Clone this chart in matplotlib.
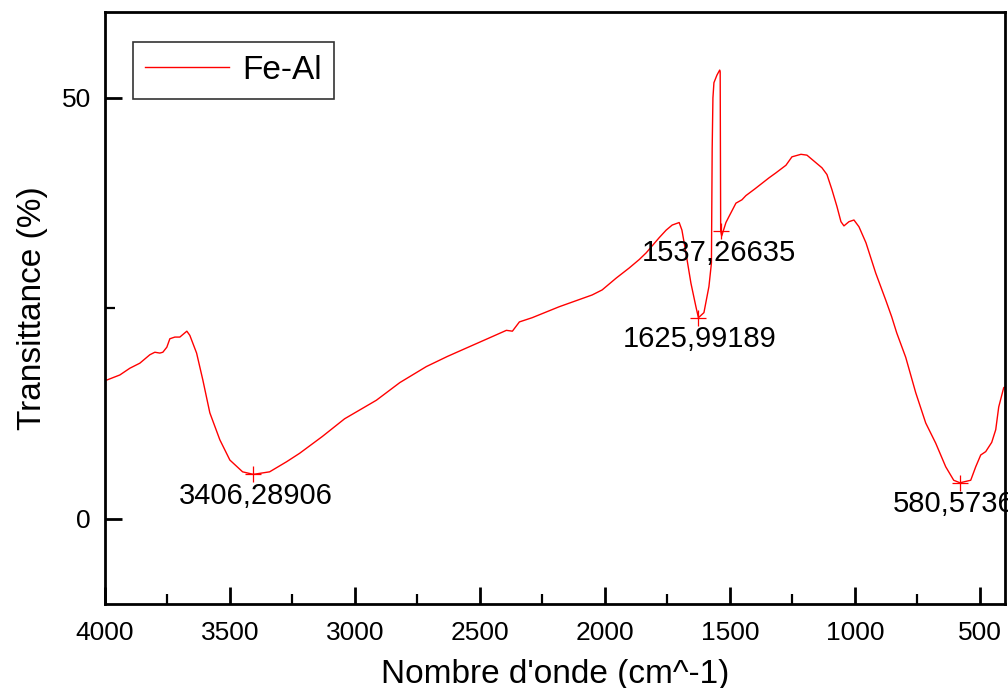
import matplotlib.pyplot as plt
from matplotlib.ticker import MultipleLocator

plt.rcParams['font.family'] = ['Liberation Sans', 'DejaVu Sans']

# wavenumber (cm^-1) and transmittance (%)
wn = [4000, 3992, 3940, 3900, 3860, 3820, 3800, 3780, 3768, 3752, 3740, 3720,
      3700, 3672, 3660, 3633, 3608, 3580, 3540, 3500, 3449, 3406, 3341, 3273,
      3221, 3130, 3041, 2914, 2820, 2714, 2630, 2554, 2470, 2394, 2370, 2342,
      2291, 2183, 2051, 2011, 1955, 1903, 1863, 1835, 1783, 1755, 1731, 1703,
      1692, 1676, 1656, 1636, 1626, 1604, 1584, 1574, 1571, 1568, 1564, 1552,
      1541, 1539, 1537, 1533, 1516, 1504, 1476, 1452, 1436, 1400, 1344, 1316,
      1276, 1252, 1216, 1192, 1164, 1132, 1112, 1092, 1072, 1056, 1044, 1024,
      1004, 984, 956, 917, 877, 853, 833, 797, 757, 717, 677, 637, 605,
      580, 537, 517, 497, 477, 453, 437, 425, 405, 397]
tr = [16.5, 16.5, 17.1, 17.9, 18.5, 19.5, 19.8, 19.7, 19.8, 20.4, 21.4, 21.6,
      21.6, 22.3, 21.8, 19.7, 16.5, 12.6, 9.4, 7.0, 5.6, 5.3, 5.6, 6.8,
      7.8, 9.8, 11.9, 14.1, 16.2, 18.1, 19.3, 20.3, 21.4, 22.4, 22.3, 23.4,
      23.9, 25.2, 26.6, 27.2, 28.6, 29.8, 30.8, 31.6, 33.4, 34.3, 34.9, 35.2,
      34.3, 31.6, 28.0, 25.2, 23.9, 24.5, 27.6, 30.4, 44.0, 50.0, 51.8, 52.7,
      53.3, 53.1, 34.2, 33.6, 35.2, 35.9, 37.5, 37.9, 38.4, 39.2, 40.5, 41.1,
      42.0, 43.0, 43.3, 43.2, 42.5, 41.7, 40.9, 39.1, 37.1, 35.3, 34.8, 35.3,
      35.5, 34.7, 32.8, 29.2, 26.0, 24.0, 22.1, 19.2, 15.0, 11.4, 9.0, 6.2, 4.6,
      4.3, 4.6, 6.2, 7.6, 8.0, 9.1, 10.6, 13.3, 15.6, 15.7]

peak_wn = [3406.28906, 1625.99189, 1537.26635, 580.5736]
peak_tr = [5.3, 23.9, 34.2, 4.3]
peak_lbl = ['3406,28906', '1625,99189', '1537,26635', '580,5736']

fig = plt.figure(figsize=(10.08, 6.88), dpi=100)
ax = fig.add_axes([0.104, 0.122, 0.893, 0.8606])

ax.plot(wn, tr, color='red', lw=1.0, label='Fe-Al')
ax.plot(peak_wn, peak_tr, ls='none', marker='+', ms=11, mew=0.9, color='red')

# peak labels below the markers
ax.text(peak_wn[0] - 10, peak_tr[0] - 0.9, peak_lbl[0], ha='center', va='top', fontsize=21)
ax.text(peak_wn[1] - 5, peak_tr[1] - 0.9, peak_lbl[1], ha='center', va='top', fontsize=21)
ax.text(peak_wn[2] + 5, peak_tr[2] - 0.9, peak_lbl[2], ha='center', va='top', fontsize=21)
ax.text(848, peak_tr[3] - 0.9, peak_lbl[3], ha='left', va='top', fontsize=21)

ax.set_xlim(4000, 400)
ax.set_ylim(-10.1, 60.2)
ax.xaxis.set_major_locator(MultipleLocator(500))
ax.xaxis.set_minor_locator(MultipleLocator(250))
ax.yaxis.set_major_locator(MultipleLocator(50))
ax.yaxis.set_minor_locator(MultipleLocator(25))
ax.tick_params(which='major', direction='in', length=12, width=2, labelsize=19, pad=12)
ax.tick_params(which='minor', direction='in', length=7, width=1.6)
ax.tick_params(axis='y', which='major', pad=10)

for s in ax.spines.values():
    s.set_linewidth(2)

ax.set_xlabel("Nombre d'onde (cm^-1)", fontsize=24, labelpad=10)
ax.set_ylabel('Transittance (%)', fontsize=24, labelpad=10)

leg = ax.legend(loc='upper left', bbox_to_anchor=(0.031, 0.949), fontsize=24,
                fancybox=False, edgecolor='black', handlelength=2.5,
                borderpad=0.38, handletextpad=0.4, borderaxespad=0)
leg.get_frame().set_linewidth(1.2)

fig.savefig('out.png', dpi=100)
